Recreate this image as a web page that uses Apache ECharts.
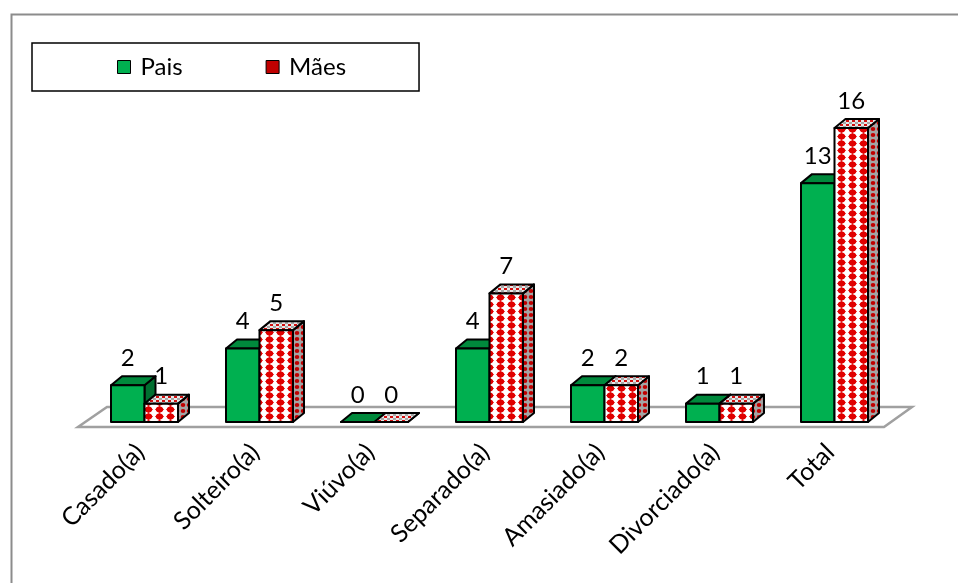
<!DOCTYPE html>
<html>
<head>
<meta charset="utf-8">
<script src="https://cdn.jsdelivr.net/npm/echarts@6/dist/echarts.min.js"></script>
<style>
  html, body { margin: 0; padding: 0; background: #fff; }
  #chart { width: 958px; height: 583px; }
</style>
</head>
<body>
<div id="chart"></div>
<script>
// ---- data ----
const categories = ['Casado(a)', 'Solteiro(a)', 'Viúvo(a)', 'Separado(a)', 'Amasiado(a)', 'Divorciado(a)', 'Total'];
const paisValues = [2, 4, 0, 4, 2, 1, 13];
const maesValues = [1, 5, 0, 7, 2, 1, 16];
const seriesNames = ['Pais', 'Mães'];

// ---- patterns ----
function makePattern(w, h, bg, draw) {
  const c = document.createElement('canvas');
  c.width = w; c.height = h;
  const g = c.getContext('2d');
  g.fillStyle = bg; g.fillRect(0, 0, w, h);
  draw(g);
  return { type: 'pattern', image: c, repeat: 'repeat' };
}
const frontPattern = makePattern(11, 7, '#ffffff', g => {
  g.fillStyle = '#e00000';
  g.beginPath();
  g.moveTo(5.5, 0); g.lineTo(10, 3.5); g.lineTo(5.5, 7); g.lineTo(1, 3.5); g.closePath(); g.fill();
  g.beginPath(); g.ellipse(5.5, 3.5, 3.6, 2.9, 0, 0, Math.PI * 2); g.fill();
});
const sidePattern = makePattern(6, 6, '#a4a4a4', g => {
  g.fillStyle = '#c00000';
  g.beginPath(); g.ellipse(3, 3, 2.3, 2.1, 0, 0, Math.PI * 2); g.fill();
});
const topPattern = makePattern(6, 4, '#e8e8e8', g => {
  g.fillStyle = '#d01010';
  g.fillRect(0, 0, 3, 2);
  g.fillStyle = '#a8a8a8';
  g.fillRect(3, 2, 3, 2);
});

const styles = [
  { front: '#00b050', top: '#00893c', side: '#006f30' },
  { front: frontPattern, top: topPattern, side: sidePattern }
];

const DX = 11, DY = -9;
const FONT = 'Lato';

function barRenderer(si) {
  return function (params, api) {
    const ci = api.value(0), v = api.value(1);
    const base = api.coord([ci, 0]);
    const top = api.coord([ci, v]);
    const band = api.size([1, 0])[0];
    const bw = band * 0.2913;
    const x0 = si === 0 ? base[0] - bw : base[0];
    const x1 = x0 + bw;
    const y0 = base[1], y1 = top[1];
    const st = styles[si];
    const line = { stroke: '#000', lineWidth: 2, lineJoin: 'round' };
    return {
      type: 'group',
      children: [
        { type: 'polygon', shape: { points: [[x1, y1], [x1 + DX, y1 + DY], [x1 + DX, y0 + DY], [x1, y0]] },
          style: Object.assign({ fill: st.side }, line) },
        { type: 'polygon', shape: { points: [[x0, y1], [x0 + DX, y1 + DY], [x1 + DX, y1 + DY], [x1, y1]] },
          style: Object.assign({ fill: st.top }, line) },
        { type: 'rect', shape: { x: x0, y: y1, width: bw, height: y0 - y1 },
          style: Object.assign({ fill: st.front }, line) },
        { type: 'text', style: { text: String(v), x: (x0 + x1) / 2, y: y1 + DY - 18,
          align: 'center', verticalAlign: 'middle', fontSize: 24, fontFamily: FONT, fill: '#000' } }
      ]
    };
  };
}

function floorRenderer(params, api) {
  const band = api.size([1, 0])[0];
  const a = api.coord([0, 0]);
  const b = api.coord([categories.length - 1, 0]);
  const L = a[0] - band / 2, R = b[0] + band / 2, y = a[1];
  return {
    type: 'polygon',
    shape: { points: [[L - 9, y + 5], [R - 8, y + 5], [R + 20, y - 15], [L + 20, y - 15]] },
    style: { fill: '#fff', stroke: '#a0a0a0', lineWidth: 2.5 }
  };
}

const chart = echarts.init(document.getElementById('chart'));
chart.setOption({
  animation: false,
  backgroundColor: '#fff',
  graphic: [{
    type: 'rect', left: 9, top: 12, z: -10,
    shape: { width: 1000, height: 700 },
    style: { fill: 'none', stroke: '#8c8c8c', lineWidth: 2 }
  }],
  legend: {
    left: 32, top: 43,
    padding: [12, 73, 12, 85],
    itemGap: 83, itemWidth: 13, itemHeight: 13,
    borderColor: '#000', borderWidth: 1.5,
    textStyle: { fontFamily: FONT, fontSize: 24, color: '#000', padding: [0, 0, 0, 5] },
    data: [
      { name: seriesNames[0], icon: 'rect', itemStyle: { color: '#00b050', borderColor: '#000', borderWidth: 1 } },
      { name: seriesNames[1], icon: 'rect', itemStyle: { color: '#c00000', borderColor: '#000', borderWidth: 1 } }
    ]
  },
  grid: { left: 87, right: 66, top: 128, bottom: 161 },
  xAxis: {
    type: 'category', data: categories,
    axisLine: { show: false }, axisTick: { show: false },
    axisLabel: { rotate: 45, margin: 22, padding: [0, 6, 0, 0], fontFamily: FONT, fontSize: 25, color: '#000', interval: 0 }
  },
  yAxis: { type: 'value', min: 0, max: 16, show: false, splitLine: { show: false } },
  series: [
    { type: 'custom', name: '__floor', data: [[0, 0]], renderItem: floorRenderer, z: 1, silent: true },
    { type: 'custom', name: seriesNames[0], itemStyle: { color: '#00b050' },
      data: paisValues.map((v, i) => [i, v]), renderItem: barRenderer(0), z: 2 },
    { type: 'custom', name: seriesNames[1], itemStyle: { color: '#c00000' },
      data: maesValues.map((v, i) => [i, v]), renderItem: barRenderer(1), z: 3 }
  ]
});
</script>
</body>
</html>
